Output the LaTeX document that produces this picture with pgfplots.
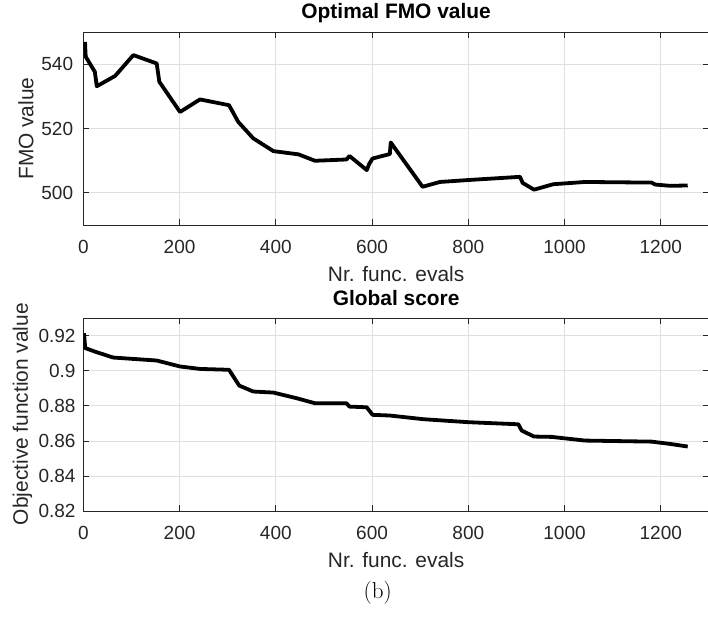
\documentclass[border=0pt]{standalone}
\usepackage{fontspec}
\usepackage{pgfplots}
\usepackage{pgfplotstable}
\pgfplotsset{compat=1.18}
\newfontfamily\arial{Liberation Sans}
\definecolor{axgray}{gray}{0.15}
\definecolor{gridgray}{gray}{0.88}

\pgfplotstableread{
x y
3.5 547.0
5 542.4
24 537.7
28 533.2
66 536.4
104 542.9
152.5 540.3
158 534.6
201 525.2
242.5 529.1
302.8 527.3
322 522.1
353 517.0
395 513.0
447 512.0
481.5 510.0
547 510.4
553 511.5
589 507.1
594 509.0
601 510.7
637 512.1
638.8 515.7
705 501.9
741 503.4
800 504.0
907.5 505.0
913 503.1
936.6 501.0
976.7 502.7
1042.6 503.4
1181 503.2
1188 502.6
1219 502.2
1256 502.3
}\fmo

\pgfplotstableread{
x y
1.5 0.9215
4 0.9130
24 0.9110
62 0.9076
152.5 0.9059
201 0.9025
242.5 0.9011
302.8 0.9006
324 0.8916
353 0.8882
395 0.8876
443 0.8844
481.5 0.8815
547 0.8815
553 0.8796
589 0.8792
601 0.8749
637 0.8745
706.6 0.8724
800 0.8707
904 0.8695
911 0.8659
936.6 0.8625
973.4 0.8623
1042.6 0.8602
1181 0.8596
1219 0.8583
1256 0.8568
}\glob

\pgfplotsset{mystyle/.style={
  scale only axis, width=625.6pt, height=192.7pt, anchor=south west,
  xmin=0, xmax=1300, xtick={0,200,...,1200},
  grid=major, major grid style={gridgray, line width=0.8pt},
  axis line style={axgray, line width=0.8pt},
  every tick/.style={axgray, line width=0.8pt},
  tick align=inside, major tick length=6pt,
  tick label style={font=\arial\fontsize{19}{22}\selectfont, text=axgray},
  /pgf/number format/assume math mode=true,
  /pgf/number format/1000 sep={},
  xticklabel style={anchor=base, yshift=-28.3pt},
  yticklabel style={anchor=east, inner sep=0pt},
  label style={font=\arial\fontsize{20.9}{24}\selectfont, text=axgray},
  title style={font=\arial\bfseries\fontsize{20.9}{24}\selectfont, anchor=base},
  xlabel={Nr. func. evals},
  xlabel style={at={(axis description cs:0.5,-0.294)}, anchor=base},
}}

\begin{document}
\begin{tikzpicture}
\useasboundingbox (0,0) rectangle (708pt,618pt);
\begin{axis}[mystyle, at={(83.3pt,393pt)},
  ymin=490, ymax=550, ytick={500,520,540},
  yticklabel style={xshift=-10pt},
  title={Optimal FMO value},
  title style={at={(axis description cs:0.5,1.038)}},
  ylabel={FMO value},
  ylabel style={at={(axis description cs:-0.0916,0.5)}, anchor=center},
]
\addplot[black, line width=3.8pt, line join=round] table {\fmo};
\end{axis}
\begin{axis}[mystyle, at={(83.3pt,107pt)},
  ymin=0.82, ymax=0.93, ytick={0.82,0.84,0.86,0.88,0.9,0.92},
  yticklabel style={xshift=-7.6pt},
  title={Global score},
  title style={at={(axis description cs:0.5,1.034)}},
  ylabel={Objective function value},
  ylabel style={at={(axis description cs:-0.0972,0.503)}, anchor=center},
]
\addplot[black, line width=3.8pt, line join=round] table {\glob};
\end{axis}
\node[font=\fontsize{23}{26}\selectfont] at (377.7pt,25.5pt) {(b)};
\end{tikzpicture}
\end{document}
